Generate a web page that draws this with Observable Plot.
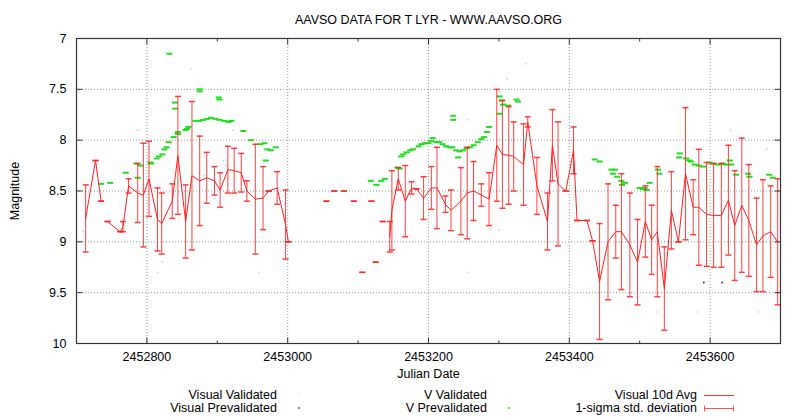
<!DOCTYPE html>
<html>
<head>
<meta charset="utf-8">
<script src="https://cdn.jsdelivr.net/npm/d3@7"></script>
<script src="https://cdn.jsdelivr.net/npm/@observablehq/plot@0.6"></script>
<style>
  html, body { margin: 0; padding: 0; background: #fff; }
  #wrap { position: relative; width: 799px; height: 420px; overflow: hidden; font-family: 'Liberation Sans', Arial, sans-serif; }
  .lg { position: absolute; font-size: 12.5px; line-height: 14px; color: #000; white-space: nowrap; text-align: right; }
  #legendSvg { position: absolute; left: 0; top: 0; pointer-events: none; }
</style>
</head>
<body>
<div id="wrap">
  <div id="chart"></div>
  <div class="lg" style="right:522px;top:388px">Visual Validated</div>
  <div class="lg" style="right:522px;top:401px">Visual Prevalidated</div>
  <div class="lg" style="right:312px;top:388px">V Validated</div>
  <div class="lg" style="right:312px;top:401px">V Prevalidated</div>
  <div class="lg" style="right:102px;top:388px">Visual 10d Avg</div>
  <div class="lg" style="right:102px;top:401px">1-sigma std. deviation</div>
  <svg id="legendSvg" width="799" height="420">
    <circle cx="299" cy="395" r="0.7" fill="#d8d8d8"></circle>
    <circle cx="299" cy="408" r="1" fill="#555"></circle>
    <circle cx="509" cy="395" r="0.7" fill="#e4efe4"></circle>
    <circle cx="509" cy="408" r="1" fill="#22dd22"></circle>
    <line x1="704" x2="734" y1="395.5" y2="395.5" stroke="#ff3030" stroke-width="1"></line>
    <line x1="704" x2="734" y1="408.5" y2="408.5" stroke="#ff5050" stroke-width="1"></line>
    <line x1="704.5" x2="704.5" y1="405.5" y2="411.5" stroke="#ff5050" stroke-width="1"></line>
    <line x1="733.5" x2="733.5" y1="405.5" y2="411.5" stroke="#ff5050" stroke-width="1"></line>
  </svg>
</div>
<script>
// ---------------- data ----------------
const titleText = "AAVSO DATA FOR T LYR - WWW.AAVSO.ORG";
const xLabel = "Julian Date";
const yLabel = "Magnitude";
const xDomain = [2452700, 2453700];
const yDomain = [7, 10];
const xMajorTicks = [2452800, 2453000, 2453200, 2453400, 2453600];
const xMinorTicks = [2452900, 2453100, 2453300, 2453500];
const yTicks = [7, 7.5, 8, 8.5, 9, 9.5, 10];
const yGrid = [7.5, 8, 8.5, 9, 9.5];

// Visual 10d averages: [JD, mean magnitude, 1-sigma]
const avgSegA = [
  [2452713, 8.77, 0.33], [2452727, 8.20, 0], [2452735, 8.60, 0]
];
const avgSegB = [
  [2452744, 8.80, 0], [2452762, 8.90, 0], [2452766, 8.85, 0.05], [2452774, 8.45, 0.07],
  [2452787, 8.52, 0.29], [2452795, 8.54, 0.51], [2452803, 8.38, 0.37], [2452815, 8.78, 0.31],
  [2452821, 8.82, 0.30], [2452836, 8.60, 0.17], [2452844, 8.15, 0.58], [2452855, 8.80, 0.36],
  [2452864, 8.35, 0.73], [2452875, 8.40, 0.44], [2452885, 8.37, 0.25], [2452896, 8.40, 0.14],
  [2452904, 8.49, 0.17], [2452915, 8.29, 0.23], [2452924, 8.30, 0.22], [2452934, 8.32, 0.19],
  [2452942, 8.50, 0.10], [2452954, 8.58, 0.54], [2452965, 8.57, 0.31], [2452973, 8.50, 0],
  [2452985, 8.47, 0.16], [2452997, 8.83, 0.34], [2453001, 9.00, 0]
];
const avgSingles = [
  [2453055, 8.60, 0], [2453066, 8.50, 0], [2453080, 8.50, 0], [2453094, 8.60, 0],
  [2453106, 9.30, 0], [2453119, 8.60, 0], [2453125, 9.20, 0], [2453135, 8.80, 0]
];
const avgSegC = [
  [2453145, 8.95, 0.15], [2453148, 8.69, 0.39], [2453157, 8.38, 0.11], [2453167, 8.60, 0.35],
  [2453176, 8.47, 0.06], [2453183, 8.48, 0], [2453193, 8.57, 0.21], [2453204, 8.47, 0.21],
  [2453212, 8.47, 0.40], [2453224, 8.63, 0.08], [2453232, 8.69, 0.20], [2453246, 8.60, 0.33],
  [2453255, 8.52, 0.45], [2453264, 8.50, 0.29], [2453275, 8.54, 0.11], [2453286, 8.58, 0.26],
  [2453297, 8.05, 0.55], [2453305, 8.14, 0.53], [2453314, 8.15, 0.48], [2453321, 8.16, 0.34],
  [2453335, 8.24, 0.40], [2453341, 7.82, 0.05], [2453354, 8.45, 0.28], [2453369, 8.80, 0.28],
  [2453376, 8.05, 0.35], [2453384, 8.43, 0.61], [2453395, 8.50, 0], [2453406, 8.10, 0.23],
  [2453411, 8.79, 0], [2453425, 8.79, 0], [2453433, 8.99, 0], [2453443, 9.39, 0.57],
  [2453455, 9.00, 0.57], [2453466, 8.90, 0.26], [2453474, 8.90, 0.57], [2453486, 9.03, 0.51],
  [2453497, 9.20, 0.42], [2453508, 8.80, 0.35], [2453517, 8.98, 0.34], [2453525, 8.90, 0.64],
  [2453535, 9.46, 0.41], [2453545, 8.69, 0.38], [2453555, 9.00, 0], [2453565, 8.33, 0.65],
  [2453576, 8.66, 0.27], [2453584, 8.66, 0.57], [2453595, 8.73, 0.51], [2453605, 8.74, 0.51],
  [2453616, 8.74, 0.51], [2453626, 8.59, 0.54], [2453635, 8.84, 0.54], [2453645, 8.64, 0.66],
  [2453655, 8.79, 0.55], [2453666, 9.03, 0.46], [2453675, 8.94, 0.55], [2453686, 8.90, 0.45],
  [2453696, 9.00, 0.62]
];

// V Prevalidated observations: [JD, magnitude]
const vPrevalidated = [
  [2452735, 8.43], [2452748, 8.42], [2452770, 8.32], [2452785, 8.23], [2452787, 8.37], [2452791, 8.25],
  [2452805, 8.22], [2452806, 8.23], [2452814, 8.18], [2452817, 8.16], [2452822, 8.14], [2452825, 8.09],
  [2452828, 8.07], [2452831, 8.02], [2452832, 7.15], [2452838, 7.97], [2452840, 7.63], [2452840, 7.69],
  [2452844, 7.92], [2452844, 7.94], [2452855, 7.90], [2452857, 7.89], [2452859, 7.87], [2452869, 7.81],
  [2452874, 7.81], [2452875, 7.50], [2452875, 7.52], [2452880, 7.80], [2452886, 7.79], [2452891, 7.78],
  [2452897, 7.79], [2452902, 7.58], [2452903, 7.60], [2452903, 7.80], [2452910, 7.81], [2452916, 7.82],
  [2452920, 7.81], [2452937, 7.91], [2452948, 8.00], [2452961, 8.04], [2452967, 8.03], [2452969, 8.20],
  [2452971, 8.09], [2452976, 8.10], [2452983, 8.07],
  [2453118, 8.40], [2453126, 8.44], [2453133, 8.40], [2453138, 8.38], [2453156, 8.27], [2453159, 8.28],
  [2453161, 8.16], [2453164, 8.14], [2453169, 8.12], [2453174, 8.10], [2453178, 8.09], [2453186, 8.06],
  [2453190, 8.04], [2453195, 8.03], [2453200, 8.03], [2453204, 8.01], [2453206, 7.98], [2453211, 8.02],
  [2453215, 8.02], [2453220, 8.04], [2453225, 8.06], [2453230, 8.07], [2453234, 8.07], [2453235, 7.76],
  [2453235, 7.80], [2453239, 8.10], [2453242, 8.17], [2453244, 8.11], [2453249, 8.10], [2453254, 8.08],
  [2453259, 8.07], [2453264, 8.05], [2453270, 8.02], [2453275, 7.99], [2453279, 7.97], [2453283, 7.92],
  [2453286, 7.87], [2453301, 7.57], [2453301, 7.74], [2453304, 7.61], [2453306, 7.65], [2453313, 7.66],
  [2453325, 7.60], [2453327, 7.62],
  [2453436, 8.19], [2453443, 8.21], [2453460, 8.29], [2453462, 8.33], [2453465, 8.29], [2453468, 8.36],
  [2453474, 8.40], [2453475, 8.44], [2453479, 8.42], [2453500, 8.47], [2453504, 8.48], [2453507, 8.47],
  [2453510, 8.49], [2453514, 8.42], [2453526, 8.29], [2453528, 8.33], [2453556, 8.17], [2453557, 8.13],
  [2453566, 8.18], [2453570, 8.20], [2453573, 8.21], [2453578, 8.24], [2453584, 8.25], [2453590, 8.26],
  [2453599, 8.22], [2453604, 8.23], [2453611, 8.24], [2453618, 8.23], [2453623, 8.24], [2453628, 8.20],
  [2453630, 8.24], [2453637, 8.34], [2453654, 8.33], [2453656, 8.36], [2453684, 8.34], [2453689, 8.37]
];

// Visual Validated (faint) and Visual Prevalidated (dark) observations: [JD, magnitude]
const visualValidated = [
  [2452709, 8.90], [2452786, 7.90], [2452789, 7.90], [2452863, 7.30], [2452881, 8.35], [2452909, 8.20],
  [2452912, 8.25], [2452922, 7.90], [2452815, 9.30], [2452822, 9.20], [2452959, 9.30], [2453255, 7.80],
  [2453257, 9.30], [2453288, 8.88], [2453300, 8.88], [2453312, 7.40], [2453338, 7.25], [2453629, 7.90],
  [2453681, 8.09], [2453525, 9.69], [2453582, 9.69], [2453669, 9.69]
];
const visualPrevalidated = [
  [2453591, 9.40], [2453617, 9.40]
];

// ---------------- build ----------------
const toRows = (arr, seg) => arr.map(([jd, mag, sd]) => ({jd, mag, sd, seg}));
const avgRows = [
  ...toRows(avgSegA, "A"), ...toRows(avgSegB, "B"),
  ...avgSingles.map(([jd, mag, sd], i) => ({jd, mag, sd, seg: "S" + i})),
  ...toRows(avgSegC, "C")
];
const vRows = vPrevalidated.map(([jd, mag]) => ({jd, mag}));
const visValRows = visualValidated.map(([jd, mag]) => ({jd, mag}));
const visPreRows = visualPrevalidated.map(([jd, mag]) => ({jd, mag}));

// custom symbols (fixed pixel geometry)
const sym = (f) => ({draw(c) { f(c); }});
const dash = sym(c => { c.rect(-3, -1, 6, 2); });
const cap = sym(c => { c.moveTo(-3, 0); c.lineTo(3, 0); });
const up6 = sym(c => { c.moveTo(0, 0); c.lineTo(0, -6); });
const down6 = sym(c => { c.moveTo(0, 0); c.lineTo(0, 6); });
const up3 = sym(c => { c.moveTo(0, 0); c.lineTo(0, -3); });
const down3 = sym(c => { c.moveTo(0, 0); c.lineTo(0, 3); });
const right6 = sym(c => { c.moveTo(0, 0); c.lineTo(6, 0); });
const left6 = sym(c => { c.moveTo(0, 0); c.lineTo(-6, 0); });

const gridStyle = {stroke: "#9a9a9a", strokeWidth: 1, strokeDasharray: "1,2"};
const tickStyle = {fill: "none", stroke: "#333", strokeWidth: 1};
const red = "#ff2020";

const plot = Plot.plot({
  width: 799,
  height: 420,
  marginTop: 38,
  marginBottom: 77,
  marginLeft: 76,
  marginRight: 19,
  style: {fontFamily: "'Liberation Sans', Arial, sans-serif", fontSize: "12.5px", background: "transparent", color: "#000", overflow: "visible"},
  x: {domain: xDomain},
  y: {domain: yDomain, reverse: true},
  marks: [
    Plot.ruleX(xMajorTicks, {x: d => d, ...gridStyle}),
    Plot.ruleY(yGrid, {y: d => d, ...gridStyle}),
    // observations
    Plot.dot(visValRows, {x: "jd", y: "mag", r: 0.8, fill: "#c8c8c8", stroke: "none"}),
    Plot.dot(visPreRows, {x: "jd", y: "mag", r: 1, fill: "#3a3a66", stroke: "none"}),
    Plot.dot(vRows, {x: "jd", y: "mag", symbol: dash, fill: "#22dd22", stroke: "none"}),
    // 1-sigma error bars
    Plot.ruleX(avgRows.filter(d => d.sd > 0), {x: "jd", y1: d => d.mag - d.sd, y2: d => d.mag + d.sd, stroke: red, strokeOpacity: 0.85, strokeWidth: 1}),
    Plot.dot(avgRows, {x: "jd", y: d => d.mag - d.sd, symbol: cap, fill: "none", stroke: red, strokeOpacity: 0.85}),
    Plot.dot(avgRows, {x: "jd", y: d => d.mag + d.sd, symbol: cap, fill: "none", stroke: red, strokeOpacity: 0.85}),
    // 10-day average line
    Plot.line(avgRows, {x: "jd", y: "mag", z: "seg", stroke: red, strokeWidth: 1}),
    Plot.frame({stroke: "#333", strokeWidth: 1.2}),
    // inward tick marks
    Plot.dot(xMajorTicks, {x: d => d, y: d => yDomain[1], symbol: up6, ...tickStyle}),
    Plot.dot(xMajorTicks, {x: d => d, y: d => yDomain[0], symbol: down6, ...tickStyle}),
    Plot.dot(xMinorTicks, {x: d => d, y: d => yDomain[1], symbol: up3, ...tickStyle}),
    Plot.dot(xMinorTicks, {x: d => d, y: d => yDomain[0], symbol: down3, ...tickStyle}),
    Plot.dot(yTicks, {x: d => xDomain[0], y: d => d, symbol: right6, ...tickStyle}),
    Plot.dot(yTicks, {x: d => xDomain[1], y: d => d, symbol: left6, ...tickStyle}),
    // axes labels
    Plot.axisX({ticks: xMajorTicks, tickSize: 0, tickPadding: 9, tickFormat: d => String(d), label: null, fontSize: "12.5px"}),
    Plot.axisY({ticks: yTicks, tickSize: 0, tickPadding: 10, tickFormat: d => String(d), label: null, fontSize: "12.5px"}),
    Plot.text([xLabel], {text: d => d, frameAnchor: "bottom", dy: 30, lineAnchor: "middle", textAnchor: "middle", fontSize: 12.5}),
    Plot.text([yLabel], {text: d => d, frameAnchor: "left", dx: -62, rotate: -90, lineAnchor: "middle", textAnchor: "middle", fontSize: 12.5}),
    Plot.text([titleText], {text: d => d, frameAnchor: "top", dy: -19, lineAnchor: "middle", textAnchor: "middle", fontSize: 12.5})
  ]
});
document.getElementById("chart").appendChild(plot);
</script>
</body>
</html>
